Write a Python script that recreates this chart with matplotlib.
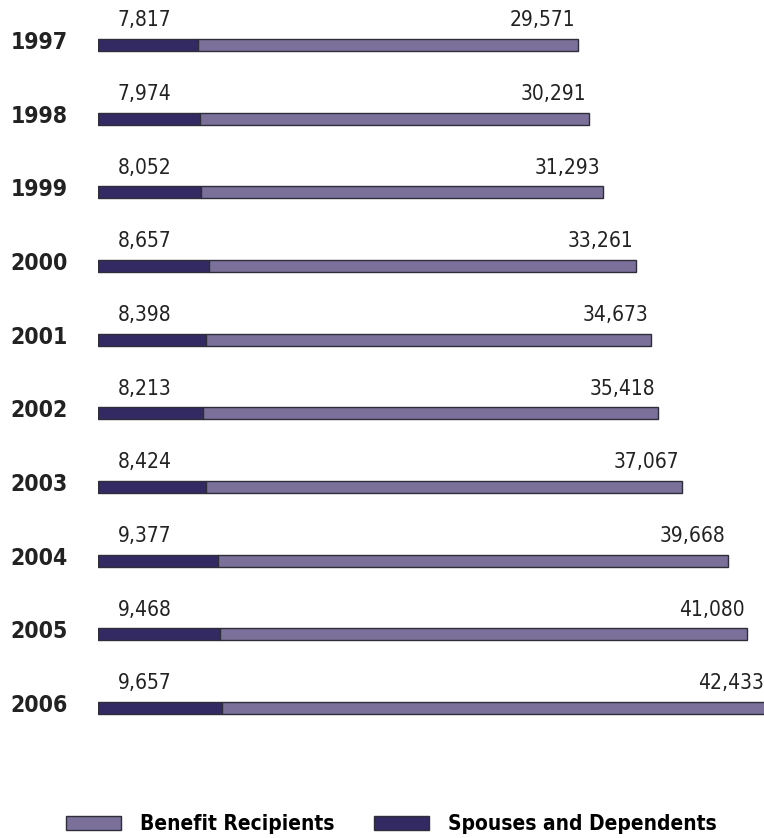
import numpy as np
import matplotlib
matplotlib.use("Agg")
import matplotlib.pyplot as plt
import matplotlib.transforms as mtransforms
from matplotlib.patches import Patch

plt.rcParams['font.family'] = ['DejaVu Sans']
plt.rcParams['font.stretch'] = 'condensed'

years = ['1997', '1998', '1999', '2000', '2001', '2002', '2003', '2004', '2005', '2006']
spouses = [7817, 7974, 8052, 8657, 8398, 8213, 8424, 9377, 9468, 9657]
recipients = [29571, 30291, 31293, 33261, 34673, 35418, 37067, 39668, 41080, 42433]

DARK = '#332a63'
LIGHT = '#7a7099'
EDGE = '#2e2e3a'

fig = plt.figure(figsize=(7.64, 8.38), dpi=100)
ax = fig.add_axes([98 / 764, 78 / 838, 666 / 764, 760 / 838])

y = np.arange(len(years))
sp = np.array(spouses)
rc = np.array(recipients)
ax.barh(y, sp, height=0.16, color=DARK, edgecolor=EDGE, linewidth=1)
ax.barh(y, rc, left=sp, height=0.16, color=LIGHT, edgecolor=EDGE, linewidth=1)

for i in range(len(years)):
    ax.annotate(f"{spouses[i]:,}", xy=(0, i), xytext=(14, 10.5), textcoords='offset points',
                ha='left', va='bottom', fontsize=15, color='#222222')
    ax.annotate(f"{recipients[i]:,}", xy=(sp[i] + rc[i], i), xytext=(-2, 10.5),
                textcoords='offset points', ha='right', va='bottom', fontsize=15,
                color='#222222', annotation_clip=False)

ax.set_xlim(0, 51870)
ax.set_ylim(9.706, -0.611)
ax.set_yticks(y)
ax.set_yticklabels(years, fontsize=16.5, fontweight='bold', color='#222222')
ax.tick_params(axis='y', length=0, pad=22)
# nudge the year labels up a bit
shift = mtransforms.ScaledTranslation(0, 5 / 100, fig.dpi_scale_trans)
for lab in ax.get_yticklabels():
    lab.set_transform(lab.get_transform() + shift)
ax.set_xticks([])
for s in ax.spines.values():
    s.set_visible(False)

handles = [Patch(facecolor=LIGHT, edgecolor=EDGE, label='Benefit Recipients'),
           Patch(facecolor=DARK, edgecolor=EDGE, label='Spouses and Dependents')]
fig.legend(handles=handles, loc='center left', bbox_to_anchor=(66 / 764, 0.0167), ncol=2,
           frameon=False, prop={'size': 15, 'weight': 'bold'}, handlelength=2.65,
           handleheight=0.67, columnspacing=1.9, handletextpad=0.9,
           borderpad=0, borderaxespad=0)

fig.savefig('out.png', dpi=100)
